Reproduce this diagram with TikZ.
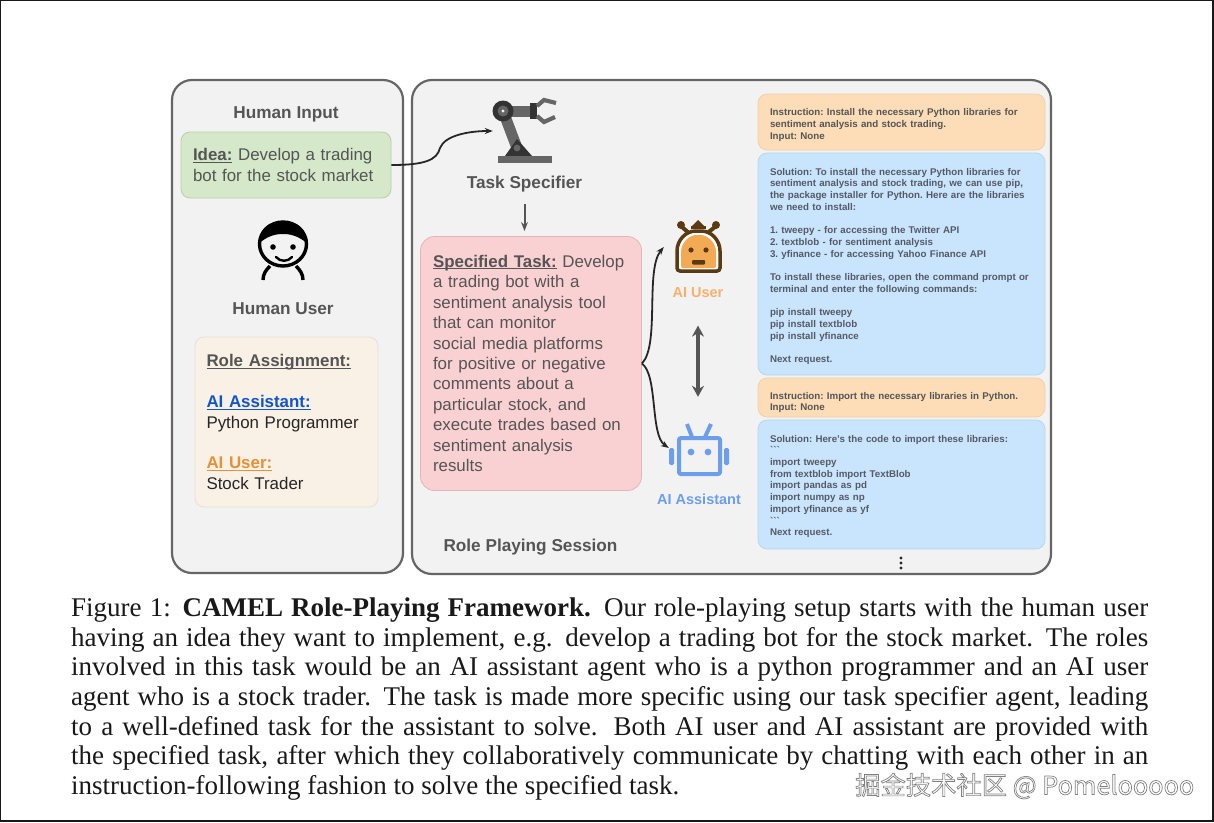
\documentclass[tikz,border=0pt]{standalone}
\usepackage{fontspec}
\setmainfont{Liberation Serif}
\setsansfont{Liberation Sans}
\newfontfamily\wmfont{Noto Sans CJK SC}
\newfontfamily\tickfont{Liberation Sans}
\usepackage{tikz}
\usetikzlibrary{positioning,arrows.meta,calc}
\definecolor{panelfill}{HTML}{F2F2F3}
\definecolor{panelline}{HTML}{666666}
\definecolor{textdark}{HTML}{555555}
\definecolor{ideafill}{HTML}{D5E8C9}
\definecolor{idealine}{HTML}{B7D0A8}
\definecolor{rolefill}{HTML}{F9F0E6}
\definecolor{roleline}{HTML}{E8E0D4}
\definecolor{taskfill}{HTML}{FAD1D3}
\definecolor{taskline}{HTML}{E8B3B6}
\definecolor{instfill}{HTML}{FCDDB8}
\definecolor{instline}{HTML}{F0CFA5}
\definecolor{solfill}{HTML}{C9E4FD}
\definecolor{solline}{HTML}{B5D5F0}
\definecolor{soltext}{HTML}{555B66}
\definecolor{assistblue}{HTML}{1155CC}
\definecolor{userorange}{HTML}{E69138}
\definecolor{iconblue}{HTML}{6D9EEB}
\definecolor{iconorange}{HTML}{F6B26B}
\definecolor{iconface}{HTML}{F2AA55}
\definecolor{iconbrown}{HTML}{5A3A12}
\definecolor{armdark}{HTML}{333333}
\definecolor{armgray}{HTML}{666666}
\newcommand{\ultext}[1]{\setbox0\hbox{#1}\rlap{\rule[-2.2pt]{\wd0}{1.2pt}}\box0}
\newcommand{\ticks}{{\tickfont```}}
\tikzset{
  panel/.style={
    draw=panelline, fill=panelfill, line width=2.2pt, rounded corners=20pt
  },
  textbox/.style={
    rounded corners=9pt, line width=0.8pt, align=left, text=textdark,
    font=\sffamily\fontsize{16.9}{20.45}\selectfont
  },
  ideabox/.style={
    textbox, draw=idealine, fill=ideafill, minimum width=210pt, minimum height=66pt,
    text width=186pt, inner xsep=12pt
  },
  rolebox/.style={
    textbox, draw=roleline, fill=rolefill, minimum width=183pt, minimum height=170pt,
    text width=160pt, inner xsep=11.5pt
  },
  taskbox/.style={
    textbox, rounded corners=14pt, draw=taskline, fill=taskfill, minimum width=220pt,
    minimum height=254pt, text width=196pt, inner xsep=12.5pt
  },
  chatbox/.style={
    rounded corners=9pt, line width=0.7pt, align=left, minimum width=287pt,
    text width=263pt, inner xsep=12pt,
    font=\sffamily\bfseries\frenchspacing\fontsize{9.75}{11.72}\selectfont
  },
  instbox/.style={chatbox, draw=instline, fill=instfill, text=textdark},
  solbox/.style={chatbox, draw=solline, fill=solfill, text=soltext},
  headlabel/.style={
    font=\sffamily\bfseries\fontsize{17.2}{20}\selectfont, text=textdark
  },
  agentlabel/.style={
    font=\sffamily\bfseries\fontsize{14.5}{17}\selectfont
  },
  iconbox/.style={inner sep=0pt, minimum width=#1, minimum height=#1},
  arr/.style={
    -{Stealth[length=8pt]}, line width=1.8pt, black!85
  },
  arrgray/.style={
    -{Stealth[length=9pt]}, line width=2pt, textdark
  },
  arrboth/.style={
    {Stealth[length=11pt,width=12pt]}-{Stealth[length=11pt,width=12pt]},
    line width=4pt, textdark
  }
}
\begin{document}
\begin{tikzpicture}[x=1pt,y=-1pt]
\useasboundingbox (0,0) rectangle (1214,822);
\fill[white] (0,0) rectangle (1214,822);
\draw[line width=1.8pt, black!90] (0.4,0.4) rectangle (1213.2,821);

\draw[panel] (172,80) rectangle (403,573);
\draw[panel] (412,80) rectangle (1051,574);

\node[headlabel] (inputlabel) at (286,114) {Human Input};
\node[ideabox] (idea) at (286,165) {\textbf{\ultext{Idea:}} Develop a trading\\bot for the stock market};
\node[iconbox=50pt] (human) at (283,250) {};
\node[headlabel] (userlabel) at (283,309) {Human User};
\node[rolebox] (roles) at (286.5,422) {\textbf{\ultext{Role Assignment:}}\\[20.45pt]
  \textcolor{assistblue}{\textbf{\ultext{AI Assistant:}}}\\\textcolor{black!85}{Python Programmer}\\[20.45pt]
  \textcolor{userorange}{\textbf{\ultext{AI User:}}}\\\textcolor{black!85}{Stock Trader}};

\node[iconbox=66pt] (arm) at (526,131) {};
\node[headlabel] (speclabel) at (524.5,184) {Task Specifier};
\node[taskbox] (task) at (531,363.5) {\textbf{\ultext{Specified Task:}} Develop\\a trading bot with a\\sentiment analysis tool\\that can monitor\\social media platforms\\for positive or negative\\comments about a\\particular stock, and\\execute trades based on\\sentiment analysis\\results};
\node[iconbox=68pt] (aiuser) at (698,247) {};
\node[agentlabel, text=iconorange] (aiuserlabel) at (698,293) {AI User};
\node[iconbox=60pt] (aiassist) at (699,448) {};
\node[agentlabel, text=iconblue] (aiassistlabel) at (699,499) {AI Assistant};
\node[headlabel] (sessionlabel) at (530.5,547) {Role Playing Session};

\node[instbox, minimum height=56pt] (inst1) at (901.5,122) {\rule{0pt}{13pt}Instruction: Install the necessary Python libraries for\\sentiment analysis and stock trading.\\Input: None};
\node[solbox, minimum height=222pt] (sol1) at (901.5,264) {\rule{0pt}{12pt}Solution: To install the necessary Python libraries for\\sentiment analysis and stock trading, we can use pip,\\the package installer for Python. Here are the libraries\\we need to install:\\[11.72pt]
  1. tweepy - for accessing the Twitter API\\2. textblob - for sentiment analysis\\3. yfinance - for accessing Yahoo Finance API\\[11.72pt]
  To install these libraries, open the command prompt or\\terminal and enter the following commands:\\[11.72pt]
  pip install tweepy\\pip install textblob\\pip install yfinance\\[11.72pt]
  Next request.};
\node[instbox, minimum height=39pt] (inst2) at (901.5,397.5) {\rule{0pt}{17pt}Instruction: Import the necessary libraries in Python.\\Input: None};
\node[solbox, minimum height=129pt] (sol2) at (901.5,484.5) {\rule{0pt}{11pt}Solution: Here's the code to import these libraries:\\\ticks\\import tweepy\\from textblob import TextBlob\\import pandas as pd\\import numpy as np\\import yfinance as yf\\\ticks\\Next request.};
\foreach \y in {558,563,568}
  \fill[black!85] (901,\y) circle (1.6pt);

\draw[arr] (idea.east) .. controls (425,165) and (437,160) .. (440,148)
  .. controls (445,135) and (470,131) .. (arm.west);
\draw[arrgray, shorten <=8pt, shorten >=5pt] (speclabel.south) -- (speclabel.south |- task.north);
\draw[arr] (task.east) .. controls (660,345) and (645,270) .. (aiuser.west);
\draw[arr] (task.east) .. controls (658,375) and (650,435) .. (aiassist.west);
\draw[arrboth, shorten <=24pt, shorten >=21pt] (aiuserlabel.south) -- (aiuserlabel.south |- aiassist.north);

% human user
\draw[line width=3.4pt, black] (283,244) ellipse (23.5pt and 22pt);
\fill[black] (259,243) .. controls (259,228) and (270,221) .. (283,221)
  .. controls (296,221) and (307,228) .. (307,243)
  .. controls (300,238) and (294,234) .. (283,234)
  .. controls (272,234) and (266,238) .. (259,243) -- cycle;
\foreach \x in {273,293}
  \fill[black] (\x,247) circle (2.8pt);
\draw[line width=2.4pt, black, line cap=round] (276,257) .. controls (280,262) and (288,262) .. (292,257);
\draw[line width=3.4pt, black] (263,280) .. controls (263,274) and (266,270) .. (270,266);
\draw[line width=3.4pt, black] (303,280) .. controls (303,274) and (300,270) .. (296,266);

% task specifier
\draw[line width=11pt, armgray] (503,111) -- (532,111);
\draw[line width=11pt, armgray] (503,111) -- (517,148);
\fill[armdark] (505,156) -- (517,139) -- (532,156) -- cycle;
\fill[armgray] (517,148) circle (3.4pt);
\fill[armgray] (498,156) rectangle (552,163);
\fill[armdark] (503,111) circle (10.5pt);
\fill[armgray] (503,111) circle (5.5pt);
\fill[panelfill] (503,111) circle (1.6pt);
\fill[armdark] (530,103) rectangle (537,119);
\draw[line width=4.2pt, armgray] (537,106) -- (544,100) -- (556,103);
\draw[line width=4.2pt, armgray] (537,116) -- (544,122) -- (555,117);

% ai user
\draw[line width=4pt, iconbrown, line cap=round] (690,234) -- (682,227);
\draw[line width=4pt, iconbrown, line cap=round] (706,234) -- (715,227);
\foreach \x in {681,716}
  \fill[iconbrown] (\x,225) circle (4pt);
\fill[iconbrown] (692,226) -- (698,220) -- (704,226) -- cycle;
\fill[iconbrown] (691,226) rectangle (706,228.5);
\draw[line width=3.5pt, iconbrown, fill=white, rounded corners=3pt]
  (677,271) -- (677,254) .. controls (677,240) and (686,231) .. (698.5,231)
  .. controls (711,231) and (720,240) .. (720,254) -- (720,271) -- cycle;
\fill[iconface, rounded corners=2pt]
  (681,268) -- (681,254) .. controls (681,243) and (689,235) .. (698.5,235)
  .. controls (708,235) and (716,243) .. (716,254) -- (716,268) -- cycle;
\foreach \x in {691,706}
  \fill[iconbrown] (\x,250) circle (2.6pt);
\fill[iconbrown, rounded corners=1pt] (692,260) rectangle (705,264.5);

% ai assistant
\draw[line width=4pt, iconblue] (692,437) -- (687,424);
\draw[line width=4pt, iconblue] (705,437) -- (711,424);
\draw[line width=4pt, iconblue, fill=panelfill, rounded corners=2pt] (679,438) rectangle (720,474);
\foreach \x in {691,708}
  \fill[iconblue] (\x,452) circle (3.4pt);
\fill[iconblue, rounded corners=1.5pt] (669,448) rectangle (674,465);
\fill[iconblue, rounded corners=1.5pt] (724,448) rectangle (729,465);

\node[anchor=north west, inner sep=0pt, text width=1077pt, align=justify,
  font=\fontsize{27}{29.67}\selectfont, text=black!90] (caption) at (71,597.5)
  {Figure 1: \textbf{CAMEL Role-Playing Framework.} Our role-playing setup starts with the human user\linebreak
  having an idea they want to implement, e.g. develop a trading bot for the stock market. The roles\linebreak
  involved in this task would be an AI assistant agent who is a python programmer and an AI user\linebreak
  agent who is a stock trader. The task is made more specific using our task specifier agent, leading\linebreak
  to a well-defined task for the assistant to solve. Both AI user and AI assistant are provided with\linebreak
  the specified task, after which they collaboratively communicate by chatting with each other in an\linebreak
  instruction-following fashion to solve the specified task.};
\node[anchor=west, inner sep=0pt, text=white, font=\wmfont\fontsize{25.3}{30}\selectfont] (watermark) at (855,786) {\special{pdf:code 2 Tr 0.7 w 0.5 G}掘金技术社区 @ Pomelooooo\special{pdf:code 0 Tr 1 w 0 G}};
\end{tikzpicture}
\end{document}
